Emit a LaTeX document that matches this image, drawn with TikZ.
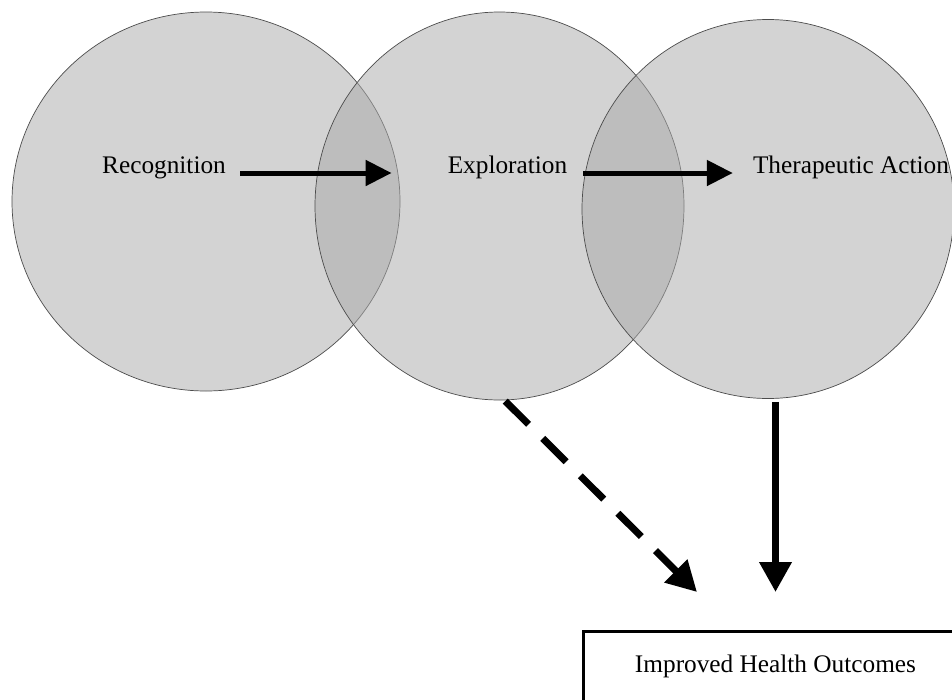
\documentclass[tikz,border=0pt]{standalone}
\usepackage{fontspec}
\setmainfont{Liberation Serif}
\usepackage{tikz}
\usetikzlibrary{shapes.geometric,arrows.meta,positioning}
\definecolor{blobgray}{RGB}{170,170,170}

\begin{document}
\begin{tikzpicture}[
    x=1pt, y=-1pt,
    font=\fontsize{25.3}{30}\selectfont,
    blob/.style={ellipse, draw=black!70, line width=0.7pt, fill=blobgray, fill opacity=0.52, inner sep=0pt},
    stage/.style={inner sep=0pt, anchor=base},
    flow/.style={-{Triangle[length=26pt,width=25pt]}, line width=5pt},
    bigflow/.style={-{Triangle[length=30pt,width=31pt]}, line width=7pt},
    outbox/.style={rectangle, draw, line width=3pt, minimum width=384pt, inner xsep=0pt, inner ysep=0pt, text height=41pt, text depth=80pt, anchor=north west}
]
    \useasboundingbox (0,0) rectangle (952,699);

    % Circles
    \node[blob, minimum width=388pt, minimum height=379pt] (recC) at (206,201.5) {};
    \node[blob, minimum width=369pt, minimum height=388pt] (expC) at (499.5,206) {};
    \node[blob, minimum width=372pt, minimum height=379pt] (actC) at (768,209) {};

    % Stages
    \node[stage] (rec) at (164,173) {Recognition};
    \node[stage] (exp) at (507.5,173) {Exploration};
    \node[stage] (act) at (851,173) {Therapeutic Action};

    % Outcome
    \node[outbox] (out) at (582,630) {Improved Health Outcomes};
    \coordinate (dtip) at ([shift={(115,-38)}]out.north west);

    % Arrows
    \draw[flow, shorten <=14pt, shorten >=56pt] (rec.base east) -- (exp.base west);
    \draw[flow, shorten <=16pt, shorten >=20pt] (exp.base east) -- (act.base west);
    \draw[bigflow, shorten <=3pt, shorten >=38pt] (actC.south -| out.north) -- (out.north);
    \draw[bigflow, dash pattern=on 33pt off 20pt, shorten <=1pt] ([xshift=5pt]expC.south) -- (dtip);
\end{tikzpicture}
\end{document}
